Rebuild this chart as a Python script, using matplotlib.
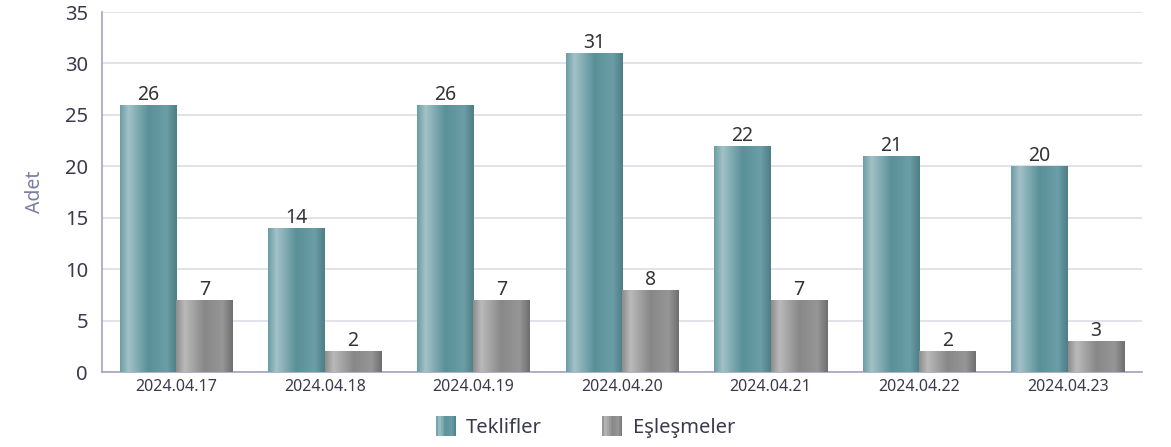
import matplotlib
matplotlib.use("Agg")
import matplotlib.pyplot as plt
import numpy as np
from matplotlib.colors import LinearSegmentedColormap
from matplotlib.patches import Rectangle
from matplotlib.legend_handler import HandlerBase

plt.rcParams['font.family'] = ['Noto Sans', 'DejaVu Sans']

# veriler
dates = ['2024.04.17', '2024.04.18', '2024.04.19', '2024.04.20',
         '2024.04.21', '2024.04.22', '2024.04.23']
teklifler = [26, 14, 26, 31, 22, 21, 20]
eslesmeler = [7, 2, 7, 8, 7, 2, 3]
series_names = ['Teklifler', 'Eşleşmeler']

teal_cmap = LinearSegmentedColormap.from_list('teal', [
    (0.0, '#6b9ca4'), (0.15, '#a2c2c7'), (0.5, '#5a9098'),
    (0.82, '#6b9ea6'), (1.0, '#4e7e85')])
gray_cmap = LinearSegmentedColormap.from_list('gray', [
    (0.0, '#8c8c8c'), (0.15, '#bababa'), (0.5, '#888888'),
    (0.82, '#969696'), (1.0, '#6e6e6e')])
grad = np.linspace(0, 1, 256).reshape(1, -1)


def gradient_bars(ax, x, heights, width, cmap):
    bars = ax.bar(x, heights, width, align='edge', color='none', zorder=3)
    for b in bars:
        x0, y0 = b.get_x(), b.get_y()
        im = ax.imshow(grad, cmap=cmap, aspect='auto', zorder=3,
                       extent=(x0, x0 + b.get_width(), y0, y0 + b.get_height()))
        im.set_clip_path(b)
    return bars


class GradHandler(HandlerBase):
    def __init__(self, cmap):
        super().__init__()
        self.cmap = cmap

    def create_artists(self, legend, orig, xd, yd, w, h, fontsize, trans):
        n = 12
        side = h * 1.4
        arts = []
        for i in range(n):
            r = Rectangle((xd + side * i / n, yd - (side - h) / 2), side / n, side,
                          facecolor=self.cmap((i + 0.5) / n), edgecolor='none',
                          transform=trans)
            arts.append(r)
        return arts


fig = plt.figure(figsize=(11.71, 4.47), dpi=100)
ax = fig.add_axes([102 / 1171, 75 / 447, 1040 / 1171, 360 / 447])

x = np.arange(len(dates))
w = 0.38
b1 = gradient_bars(ax, x - w, teklifler, w, teal_cmap)
b2 = gradient_bars(ax, x, eslesmeler, w, gray_cmap)

for bars, vals in ((b1, teklifler), (b2, eslesmeler)):
    for b, v in zip(bars, vals):
        ax.text(b.get_x() + b.get_width() / 2, v, str(v), ha='center', va='bottom',
                fontsize=14, color='#333333', zorder=4)

ax.set_xlim(-0.5, len(dates) - 0.5)
ax.set_ylim(0, 35)
ax.set_yticks(range(0, 36, 5))
ax.set_xticks(x)
ax.set_xticklabels(dates)
ax.tick_params(axis='y', length=0, labelsize=14.5, labelcolor='#3a3a4e', pad=10)
ax.tick_params(axis='x', length=0, labelsize=11.5, labelcolor='#3a3a4e', pad=5)
ax.grid(axis='y', color='#dddde8', linewidth=1.2, zorder=0)
for s in ('top', 'right'):
    ax.spines[s].set_visible(False)
ax.spines['left'].set_color('#a3a3c2')
ax.spines['bottom'].set_color('#a3a3c2')
ax.spines['left'].set_linewidth(1.2)
ax.spines['bottom'].set_linewidth(1.2)
ax.set_ylabel('Adet', fontsize=14, color='#7c7ca6', labelpad=14)

h1 = Rectangle((0, 0), 1, 1)
h2 = Rectangle((0, 0), 1, 1)
fig.legend([h1, h2], series_names, loc='lower center', ncol=2, frameon=False,
           bbox_to_anchor=(0.5, -0.02), fontsize=14.5, labelcolor='#3a3a4e',
           handler_map={h1: GradHandler(teal_cmap), h2: GradHandler(gray_cmap)},
           handlelength=1.1, handletextpad=0.4, columnspacing=3.0)

fig.savefig('out.png', dpi=100)
